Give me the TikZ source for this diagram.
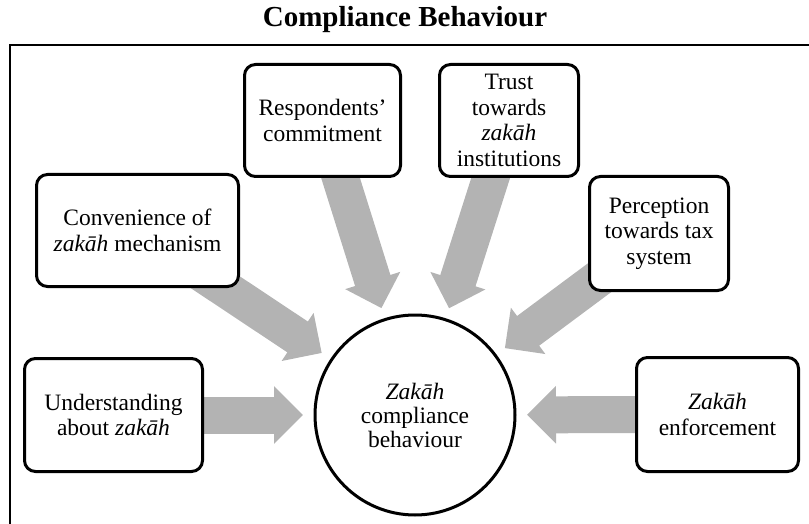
\documentclass[tikz,border=0pt]{standalone}
\usepackage{fontspec}
\setmainfont{Liberation Serif}
\usetikzlibrary{arrows.meta}
\pgfdeclarelayer{back}
\pgfsetlayers{back,main}
\definecolor{flowgray}{RGB}{179,179,179}
\begin{document}
\begin{tikzpicture}[x=1pt,y=-1pt,
  factor/.style={draw, line width=3pt, rounded corners=11pt, fill=white,
    align=center, inner sep=2pt, font=\fontsize{23.5}{25.5}\selectfont},
  core/.style={circle, draw, line width=3pt, minimum size=200pt, fill=white,
    align=center, inner sep=0pt, font=\fontsize{23.5}{24}\selectfont},
  flow/.style={line width=37pt, draw=flowgray,
    -{Triangle[width=56pt,length=29pt]}, shorten >=10.5pt},
  frameline/.style={line width=2pt}]
\useasboundingbox (0,0) rectangle (809,524);

% title
\node[font=\fontsize{29}{32}\selectfont\bfseries] (title) at (405,20) {Compliance Behaviour};

% open frame (top and left edges)
\draw[frameline] (9.5,530) -- (9.5,45) -- (815,45);

% central construct
\node[core] (zcb) at (415,415) {\textit{Zakāh}\\compliance\\behaviour};

% influencing factors
\node[factor, minimum width=202pt, minimum height=112pt] (conv) at (137.5,230.5)
  {Convenience of\\\textit{zakāh} mechanism};
\node[factor, minimum width=156pt, minimum height=112pt] (resp) at (322.5,120.5)
  {Respondents’\\commitment};
\node[factor, minimum width=139pt, minimum height=112pt] (trust) at (509,120.5)
  {Trust\\towards\\\textit{zakāh}\\institutions};
\node[factor, minimum width=139pt, minimum height=114pt] (perc) at (659,233.5)
  {Perception\\towards tax\\system};
\node[factor, minimum width=178pt, minimum height=113pt] (und) at (113.5,415)
  {Understanding\\about \textit{zakāh}};
\node[factor, minimum width=162pt, minimum height=114pt] (enf) at (717.5,414.5)
  {\textit{Zakāh}\\enforcement};

% block arrows, drawn beneath the boxes
\begin{pgfonlayer}{back}
  \draw[flow] (conv.center) -- (zcb);
  \draw[flow] (resp.center) -- (zcb);
  \draw[flow] (trust.center) -- (zcb);
  \draw[flow] (perc.center) -- (zcb);
  \draw[flow] (und.center) -- (zcb);
  \draw[flow] (enf.center) -- (zcb);
\end{pgfonlayer}
\end{tikzpicture}
\end{document}
